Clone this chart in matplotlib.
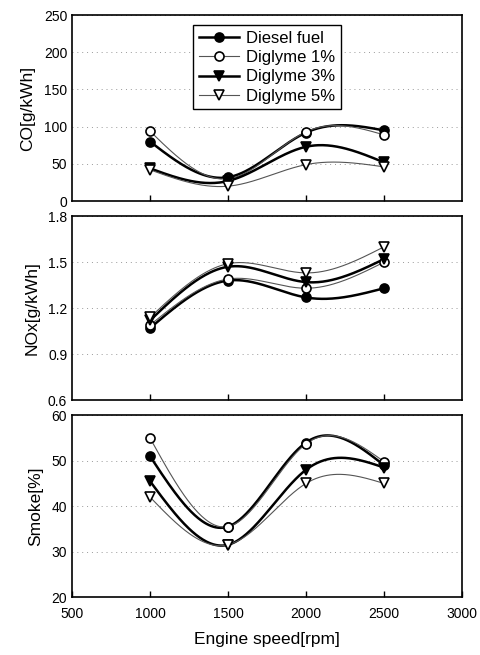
import numpy as np
import matplotlib
matplotlib.use("Agg")
import matplotlib.pyplot as plt

plt.rcParams['font.family'] = ['Liberation Sans', 'DejaVu Sans']

# data
rpm = [1000, 1500, 2000, 2500]
labels = ["Diesel fuel", "Diglyme 1%", "Diglyme 3%", "Diglyme 5%"]

co_diesel = [80, 32, 92, 95]
co_d1 = [94, 30, 93, 89]
co_d3 = [44, 27, 73, 52]
co_d5 = [42, 20, 49, 46]

nox_diesel = [1.07, 1.38, 1.27, 1.33]
nox_d1 = [1.09, 1.39, 1.33, 1.50]
nox_d3 = [1.12, 1.47, 1.37, 1.52]
nox_d5 = [1.14, 1.49, 1.43, 1.60]

smoke_diesel = [51, 35.5, 54, 49]
smoke_d1 = [55, 35.5, 53.7, 49.8]
smoke_d3 = [45.5, 31.5, 48, 48.5]
smoke_d5 = [42, 31.5, 45, 45]

# style per series: marker, facecolor, linewidth, color
styles = [
    dict(marker='o', mfc='black', lw=1.8, color='black'),
    dict(marker='o', mfc='white', lw=0.8, color='#555555'),
    dict(marker='v', mfc='black', lw=1.8, color='black'),
    dict(marker='v', mfc='white', lw=0.8, color='#555555'),
]


def spline(x, y, n=200):
    # natural cubic spline, only used to draw the smooth connecting line
    x = np.asarray(x, float)
    y = np.asarray(y, float)
    k = len(x)
    h = np.diff(x)
    A = np.zeros((k, k))
    b = np.zeros(k)
    A[0, 0] = A[-1, -1] = 1
    for i in range(1, k - 1):
        A[i, i - 1] = h[i - 1]
        A[i, i] = 2 * (h[i - 1] + h[i])
        A[i, i + 1] = h[i]
        b[i] = 6 * ((y[i + 1] - y[i]) / h[i] - (y[i] - y[i - 1]) / h[i - 1])
    M = np.linalg.solve(A, b)
    xs = np.linspace(x[0], x[-1], n)
    idx = np.clip(np.searchsorted(x, xs) - 1, 0, k - 2)
    x0, x1 = x[idx], x[idx + 1]
    hh = x1 - x0
    ys = (M[idx] * (x1 - xs) ** 3 / (6 * hh) + M[idx + 1] * (xs - x0) ** 3 / (6 * hh)
          + (y[idx] / hh - M[idx] * hh / 6) * (x1 - xs)
          + (y[idx + 1] / hh - M[idx + 1] * hh / 6) * (xs - x0))
    return xs, ys


fig = plt.figure(figsize=(4.8, 6.55), dpi=100)
ax1 = fig.add_axes([0.15, 0.693, 0.8125, 0.284])
ax2 = fig.add_axes([0.15, 0.389, 0.8125, 0.281])
ax3 = fig.add_axes([0.15, 0.0885, 0.8125, 0.2775])

panels = [
    (ax1, [co_diesel, co_d1, co_d3, co_d5], (0, 250), [0, 50, 100, 150, 200, 250], "CO[g/kWh]", None),
    (ax2, [nox_diesel, nox_d1, nox_d3, nox_d5], (0.6, 1.8), [0.6, 0.9, 1.2, 1.5, 1.8], "NOx[g/kWh]", '%.1f'),
    (ax3, [smoke_diesel, smoke_d1, smoke_d3, smoke_d5], (20, 60), [20, 30, 40, 50, 60], "Smoke[%]", None),
]

for ax, series, ylim, yt, ylab, fmt in panels:
    for vals, st, lab in zip(series, styles, labels):
        xs, ys = spline(rpm, vals)
        ax.plot(xs, ys, color=st['color'], lw=st['lw'], zorder=2)
        ax.plot(rpm, vals, ls='none', marker=st['marker'], ms=6.5,
                mfc=st['mfc'], mec='black', mew=1.2, zorder=3)
        # legend proxy
        ax.plot([], [], color=st['color'], lw=st['lw'], marker=st['marker'],
                ms=6.5, mfc=st['mfc'], mec='black', mew=1.2, label=lab)
    ax.set_xlim(500, 3000)
    ax.set_ylim(*ylim)
    ax.set_yticks(yt)
    if fmt:
        ax.set_yticklabels([fmt % v for v in yt])
    ax.set_xticks([1000, 1500, 2000, 2500] if ax is not ax3 else [500, 1000, 1500, 2000, 2500, 3000])
    ax.grid(axis='y', ls=(0, (1, 4)), color='#999999', lw=0.7)
    ax.tick_params(direction='in', length=4, labelsize=10, width=1)
    ax.tick_params(axis='y', length=0)
    ax.tick_params(axis='x', pad=7)
    ax.set_ylabel(ylab, fontsize=12.5, labelpad=6)
    for s in ax.spines.values():
        s.set_linewidth(1.2)
    if ax is not ax3:
        ax.tick_params(axis='x', labelbottom=False)

ax1.legend(loc='upper left', bbox_to_anchor=(0.29, 0.99), fontsize=12,
           frameon=True, fancybox=False, edgecolor='black', framealpha=1,
           handlelength=2.4, borderpad=0.35, labelspacing=0.25, handletextpad=0.4)
ax1.get_legend().get_frame().set_linewidth(1.0)

ax3.set_xlabel("Engine speed[rpm]", fontsize=12.5, labelpad=8)
fig.align_ylabels([ax1, ax2, ax3])

fig.savefig("out.png", dpi=100)
